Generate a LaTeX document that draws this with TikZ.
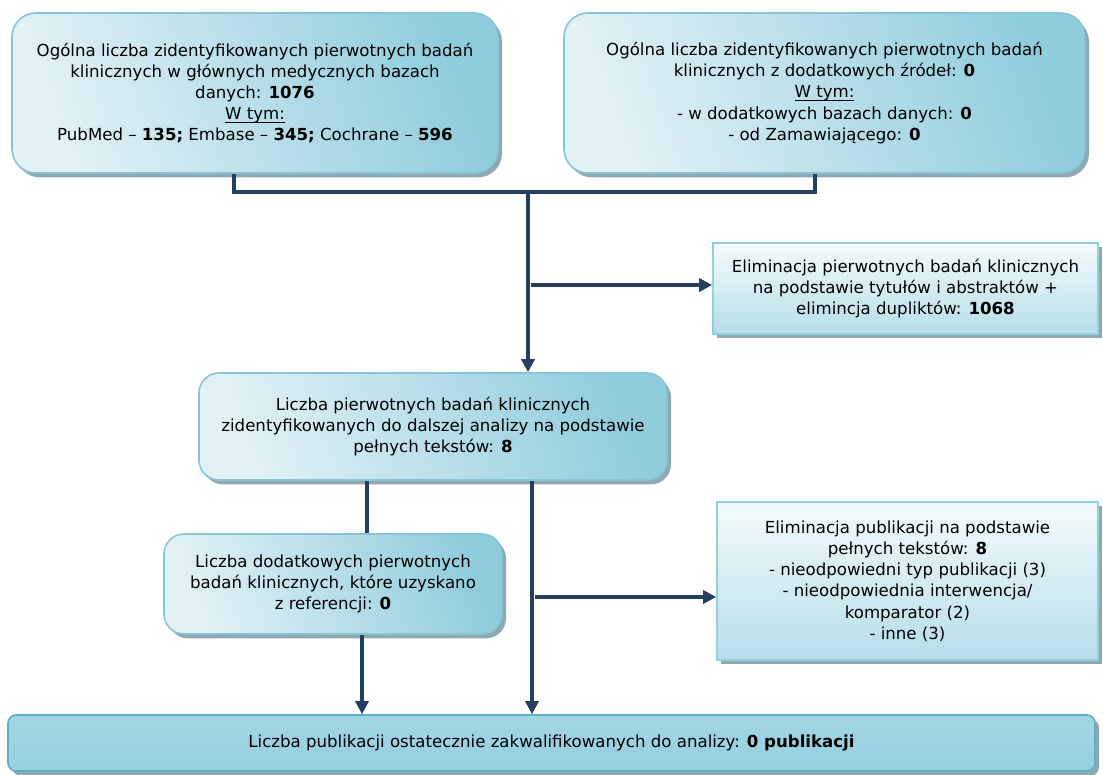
\documentclass[tikz,border=0pt]{standalone}
\usepackage{fontspec}
\setmainfont{DejaVu Sans}
\usepackage{tikz}
\usetikzlibrary{arrows.meta,shadows}
\definecolor{boxlight}{HTML}{E2F1F6}
\definecolor{boxdark}{HTML}{8FCCDC}
\definecolor{boxline}{HTML}{86C5D8}
\definecolor{shadowgray}{HTML}{8FA8B2}
\definecolor{recttop}{HTML}{F4FAFC}
\definecolor{rectbottom}{HTML}{B6DEE9}
\definecolor{rectline}{HTML}{92D0E0}
\definecolor{bartop}{HTML}{A2D5E3}
\definecolor{barmid}{HTML}{3FA2C0}
\definecolor{barbottom}{HTML}{96CFE0}
\definecolor{barline}{HTML}{5BAFC8}
\definecolor{linkblue}{HTML}{243F60}
\newcommand{\undl}[1]{\setbox0\hbox{#1}\rlap{\rule[-1.6pt]{\wd0}{0.45pt}}\box0}
\tikzset{
    txt/.style={font=\fontsize{8.3}{10.6}\selectfont, align=center, inner sep=0pt},
    shade box/.style={drop shadow={shadow xshift=2pt, shadow yshift=-2.2pt, fill=shadowgray, opacity=1}},
    roundbox/.style={txt, shade box, draw=boxline, line width=0.8pt, rounded corners=#1,
        top color=boxdark, bottom color=boxlight, shading angle=-70},
    roundbox/.default=12pt,
    rectbox/.style={txt, shade box, draw=rectline, line width=0.8pt,
        top color=recttop, bottom color=rectbottom},
    finalbox/.style={txt, shade box, draw=barline, line width=0.8pt, rounded corners=4pt,
        top color=bartop, middle color=barmid, bottom color=barbottom},
    link/.style={draw=linkblue, line width=1.6pt},
    linkarrow/.style={link, -{Triangle[length=6.5pt, width=6.5pt]}},
}
\begin{document}
\begin{tikzpicture}[x=0.5pt, y=-0.5pt]
\useasboundingbox (0,0) rectangle (1103,775);

\node[roundbox, minimum width=243pt, minimum height=80pt] (main) at (255,93)
    {Ogólna liczba zidentyfikowanych pierwotnych badań\\
     klinicznych w głównych medycznych bazach\\
     danych: \textbf{1076}\\
     \undl{W tym:}\\
     PubMed – \textbf{135;} Embase – \textbf{345;} Cochrane – \textbf{596}};
\node[roundbox, minimum width=260.5pt, minimum height=80pt] (extra) at (824.5,93)
    {Ogólna liczba zidentyfikowanych pierwotnych badań\\
     klinicznych z dodatkowych źródeł: \textbf{0}\\
     \undl{W tym:}\\
     - w dodatkowych bazach danych: \textbf{0}\\
     - od Zamawiającego: \textbf{0}};
\node[rectbox, minimum width=192.5pt, minimum height=45.5pt] (elim) at (905.5,288.5)
    {Eliminacja pierwotnych badań klinicznych\\
     na podstawie tytułów i abstraktów +\\
     elimincja dupliktów: \textbf{1068}};
\node[roundbox=10pt, minimum width=234pt, minimum height=53.5pt] (full) at (433,426.5)
    {Liczba pierwotnych badań klinicznych\\
     zidentyfikowanych do dalszej analizy na podstawie\\
     pełnych tekstów: \textbf{8}};
\node[roundbox=10pt, minimum width=169pt, minimum height=50pt] (ref) at (333,584)
    {Liczba dodatkowych pierwotnych\\
     badań klinicznych, które uzyskano\\
     z referencji: \textbf{0}};
\node[rectbox, minimum width=190.5pt, minimum height=79pt] (excl) at (907.5,581)
    {Eliminacja publikacji na podstawie\\
     pełnych tekstów: \textbf{8}\\
     - nieodpowiedni typ publikacji (3)\\
     - nieodpowiednia interwencja/\\
     komparator (2)\\
     - inne (3)};
\node[finalbox, minimum width=543.5pt, minimum height=28pt] (final) at (551.5,743)
    {Liczba publikacji ostatecznie zakwalifikowanych do analizy: \textbf{0 publikacji}};

\coordinate (ja) at (234,192);
\coordinate (jb) at (815,192);
\coordinate (split) at (528,192);
\coordinate (e0) at (531,285);
\coordinate (cd) at (367,0);
\coordinate (dg) at (362,0);
\coordinate (cg) at (532,0);
\coordinate (f0) at (535,597);

\draw[link] (main.south -| ja) -- (ja) -- (jb) -- (extra.south -| jb);
\draw[linkarrow] (split) -- (full.north -| split);
\draw[linkarrow] (e0) -- (elim.west |- e0);
\draw[link] (full.south -| cd) -- (ref.north -| cd);
\draw[linkarrow] (ref.south -| dg) -- (final.north -| dg);
\draw[linkarrow] (full.south -| cg) -- (final.north -| cg);
\draw[linkarrow] (f0) -- (excl.west |- f0);
\end{tikzpicture}
\end{document}
